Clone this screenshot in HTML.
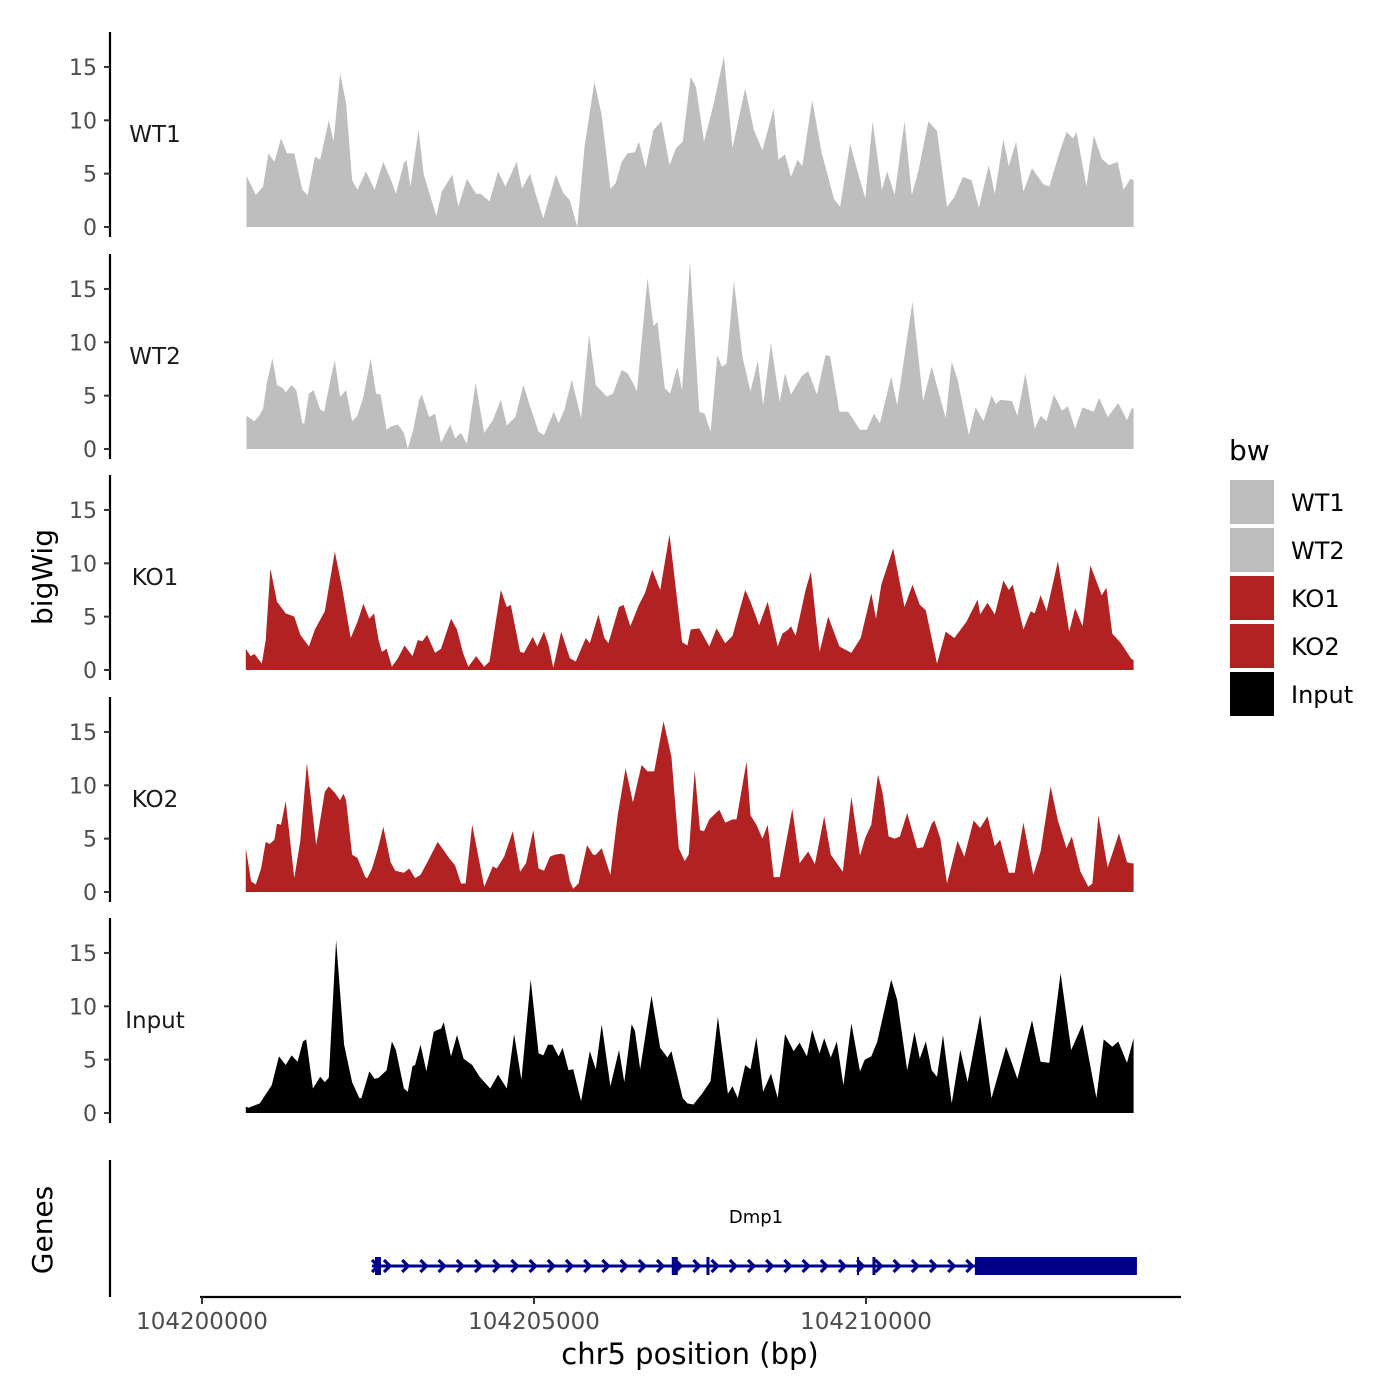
<!DOCTYPE html>
<html><head><meta charset="utf-8">
<style>
html,body{margin:0;padding:0;background:#fff;}
svg{display:block;font-family:"DejaVu Sans","Liberation Sans",sans-serif;}
</style></head>
<body>
<svg id="chart" width="1400" height="1400" viewBox="0 0 1400 1400" xmlns="http://www.w3.org/2000/svg">
<rect width="1400" height="1400" fill="#fff"/>
<g id="tracks"></g>
<g id="genes"></g>
<text x="0" y="0" transform="translate(52,577) rotate(-90)" text-anchor="middle" font-size="28" fill="#000">bigWig</text>
<text x="0" y="0" transform="translate(52,1230) rotate(-90)" text-anchor="middle" font-size="28" fill="#000">Genes</text>
<text x="690" y="1364" text-anchor="middle" font-size="29" fill="#000">chr5 position (bp)</text>
<g>
<text x="1229" y="460" font-size="28" fill="#000">bw</text>
<g id="legend"></g>
</g>
</svg>
<script>
// ---- data (positions in kb offset from 104,200,000 bp; values = coverage) ----
const tickLabels = ["104200000","104205000","104210000"];
const tickValuesKb = [0,5,10];
const yTicks = [0,5,10,15];
const sampleNames = ["WT1","WT2","KO1","KO2","Input"];
const sampleColors = ["#bebebe","#bebebe","#b22222","#b22222","#000000"];

const wt1Pos = [0.67,0.81,0.92,1.00,1.09,1.19,1.28,1.39,1.51,1.59,1.70,1.78,1.91,1.98,2.08,2.17,2.26,2.34,2.47,2.60,2.73,2.86,2.92,3.04,3.08,3.14,3.26,3.34,3.53,3.61,3.77,3.86,3.99,4.13,4.20,4.33,4.46,4.57,4.74,4.82,4.94,5.02,5.14,5.33,5.44,5.54,5.65,5.76,5.91,6.02,6.15,6.23,6.32,6.41,6.52,6.58,6.68,6.80,6.92,7.04,7.14,7.24,7.36,7.44,7.56,7.70,7.86,7.99,8.18,8.31,8.44,8.61,8.68,8.78,8.87,8.97,9.04,9.19,9.33,9.52,9.61,9.76,9.91,9.99,10.10,10.24,10.32,10.43,10.58,10.69,10.79,10.94,11.07,11.22,11.33,11.46,11.59,11.70,11.85,11.94,12.07,12.15,12.26,12.37,12.50,12.67,12.76,12.91,13.02,13.12,13.17,13.32,13.43,13.55,13.66,13.79,13.88,13.98,14.03];
const wt1Val = [4.8,3.0,3.8,6.9,6.1,8.3,6.9,6.9,3.5,3.0,6.6,6.3,10.0,8.0,14.4,11.6,4.4,3.5,5.2,3.5,6.1,4.2,3.1,6.0,6.3,3.8,9.1,4.9,1.0,3.3,4.9,1.9,4.5,3.1,3.1,2.4,5.2,3.8,6.1,3.6,5.0,3.2,0.8,4.9,3.2,2.5,0,7.5,13.6,10.5,3.6,4.1,6.1,6.9,7.0,8.0,5.5,9.1,9.9,5.8,7.4,8.0,14.1,13.1,8.0,11.4,16.0,7.4,13.0,9.1,7.2,11.1,6.3,6.8,4.7,6.3,5.7,11.9,7.0,2.6,1.9,7.8,4.4,2.7,9.9,3.5,5.2,3.0,9.9,3.0,5.3,9.9,9.0,1.9,2.8,4.7,4.4,1.8,5.8,3.1,8.2,5.7,8.0,3.3,5.5,4.0,3.8,6.9,8.9,8.3,8.9,3.8,8.6,6.4,5.8,6.1,3.5,4.5,4.4];

const wt2Pos = [0.67,0.79,0.87,0.92,0.98,1.06,1.13,1.22,1.26,1.35,1.42,1.51,1.54,1.61,1.68,1.78,1.84,1.93,2.00,2.08,2.17,2.26,2.34,2.43,2.54,2.62,2.69,2.78,2.84,2.95,3.04,3.10,3.18,3.27,3.31,3.42,3.51,3.60,3.74,3.81,3.90,3.99,4.12,4.25,4.38,4.50,4.59,4.72,4.84,4.94,5.07,5.15,5.30,5.37,5.46,5.57,5.71,5.83,5.93,6.10,6.19,6.32,6.41,6.49,6.55,6.71,6.80,6.86,6.97,7.05,7.16,7.23,7.35,7.49,7.57,7.66,7.76,7.83,7.90,8.01,8.14,8.26,8.37,8.45,8.57,8.70,8.78,8.87,9.03,9.13,9.26,9.39,9.46,9.60,9.73,9.91,10.01,10.12,10.21,10.38,10.47,10.70,10.86,10.99,11.20,11.29,11.38,11.55,11.65,11.77,11.89,11.96,12.02,12.20,12.28,12.40,12.54,12.63,12.72,12.83,12.95,13.04,13.15,13.26,13.43,13.51,13.64,13.80,13.93,14.00,14.03];
const wt2Val = [3.1,2.6,3.2,3.8,6.3,8.5,6.0,5.7,5.3,6.0,5.5,2.4,2.4,5.2,5.5,3.7,3.5,6.4,8.3,4.9,5.5,2.6,3.1,4.9,8.5,5.2,5.1,1.8,2.1,2.3,1.5,0,1.8,4.6,5.1,3.0,3.3,0.6,2.3,1.0,1.5,0.5,6.2,1.5,2.7,4.6,2.2,3.0,6.0,4.0,1.6,1.3,3.5,2.4,3.7,6.5,2.9,10.7,6.0,4.9,5.2,7.4,7.1,6.2,5.4,16.0,11.5,11.9,5.7,5.2,7.7,5.5,17.6,3.5,3.3,1.6,8.8,7.7,8.0,15.8,8.6,5.4,8.3,4.1,9.9,4.4,7.1,5.1,6.8,7.3,5.1,8.8,8.7,3.5,3.5,1.8,1.8,3.3,2.4,6.8,4.1,13.8,4.5,7.7,2.9,8.2,6.5,1.3,3.9,2.6,5.0,4.2,4.6,4.5,3.1,7.1,1.9,3.1,2.6,5.1,3.6,4.0,1.9,3.9,3.5,4.8,3.0,4.3,2.7,3.8,3.8];

const ko1Pos = [0.66,0.73,0.79,0.90,0.96,1.03,1.13,1.26,1.39,1.48,1.61,1.70,1.85,2.00,2.11,2.24,2.34,2.43,2.52,2.59,2.66,2.71,2.78,2.86,2.95,3.05,3.17,3.25,3.32,3.39,3.51,3.60,3.75,3.84,3.93,4.01,4.13,4.25,4.33,4.50,4.59,4.65,4.79,4.85,4.98,5.05,5.15,5.22,5.29,5.41,5.54,5.63,5.78,5.84,5.97,6.06,6.12,6.28,6.35,6.45,6.58,6.67,6.78,6.90,7.04,7.23,7.31,7.36,7.49,7.64,7.75,7.88,7.99,8.18,8.26,8.39,8.52,8.67,8.74,8.83,8.87,8.94,9.09,9.17,9.30,9.43,9.60,9.78,9.92,10.08,10.15,10.23,10.41,10.58,10.70,10.81,10.90,11.07,11.20,11.33,11.51,11.68,11.72,11.83,11.94,12.07,12.15,12.21,12.37,12.48,12.54,12.63,12.72,12.89,13.06,13.15,13.26,13.38,13.55,13.62,13.71,13.84,13.99,14.03];
const ko1Val = [2.0,1.3,1.5,0.6,2.8,9.5,6.4,5.3,5.0,3.3,2.2,3.8,5.5,11.1,7.7,3.0,4.5,6.2,4.8,5.3,2.8,1.7,2.0,0.3,1.1,2.3,1.3,2.8,2.7,3.3,1.6,2.0,4.8,3.8,1.6,0.3,1.3,0.3,0.8,7.5,5.9,6.1,1.7,1.6,3.1,2.2,3.6,2.3,0.2,3.6,1.1,0.8,3.0,2.5,5.2,3.0,2.5,5.9,6.1,4.1,6.1,7.2,9.4,7.5,12.7,2.6,2.3,3.8,3.9,2.2,3.9,2.5,3.2,7.5,6.4,4.2,6.4,2.2,3.4,3.8,4.1,3.2,7.5,9.2,1.7,5.0,2.2,1.6,3.0,7.2,4.8,8.0,11.4,5.9,8.0,6.1,5.6,0.6,3.6,3.0,4.5,6.6,5.2,6.3,5.2,8.4,7.5,8.0,3.8,5.5,5.3,7.0,5.5,10.2,3.6,5.8,4.1,9.8,7.0,7.7,3.4,2.5,1.1,0.9];

const ko2Pos = [0.66,0.74,0.81,0.89,0.96,1.02,1.09,1.13,1.19,1.26,1.39,1.48,1.58,1.72,1.85,1.91,2.00,2.08,2.13,2.17,2.26,2.34,2.46,2.49,2.56,2.65,2.73,2.84,2.91,3.04,3.12,3.21,3.29,3.42,3.55,3.73,3.81,3.90,3.97,4.07,4.25,4.38,4.44,4.55,4.68,4.79,4.88,4.99,5.07,5.15,5.24,5.31,5.41,5.46,5.54,5.59,5.67,5.80,5.89,5.93,6.02,6.15,6.26,6.38,6.49,6.62,6.71,6.81,6.95,7.07,7.18,7.27,7.33,7.42,7.50,7.56,7.64,7.79,7.88,7.99,8.05,8.20,8.26,8.35,8.44,8.52,8.61,8.70,8.89,9.00,9.13,9.23,9.37,9.47,9.65,9.78,9.91,9.99,10.08,10.18,10.25,10.34,10.43,10.51,10.62,10.77,10.86,10.99,11.03,11.12,11.22,11.38,11.48,11.62,11.72,11.83,11.94,12.02,12.15,12.24,12.37,12.52,12.63,12.78,12.89,13.02,13.10,13.23,13.35,13.41,13.50,13.64,13.81,13.93,13.99,14.03];
const ko2Val = [4.1,1.0,0.7,2.2,4.7,4.5,4.9,6.4,6.3,8.5,1.3,4.8,12.1,4.4,9.4,9.9,9.3,8.6,9.2,8.6,3.5,3.2,1.4,1.3,2.2,4.1,6.1,2.8,2.0,1.8,2.2,1.3,1.6,3.1,4.7,3.1,2.5,0.8,0.8,6.3,0.5,2.4,2.2,3.3,5.7,1.9,2.7,5.8,2.2,2.0,3.3,3.5,3.6,3.5,1.0,0.3,0.8,4.4,3.5,3.5,4.1,1.6,7.2,11.6,8.4,11.9,11.3,11.3,16.0,12.7,4.1,2.9,3.5,11.4,5.8,5.7,6.8,7.7,6.5,6.8,6.8,12.2,7.2,6.3,5.0,6.3,1.4,1.4,7.8,2.7,3.8,2.6,7.1,3.5,1.9,8.9,3.4,5.1,6.3,11.0,9.3,5.2,5.0,5.2,7.4,4.1,4.2,6.4,6.7,5.0,0.8,4.8,3.3,6.7,6.0,7.1,4.3,4.9,1.8,1.8,6.5,1.6,3.8,9.9,6.7,4.1,5.2,1.9,0.5,0.8,7.2,2.3,5.5,2.8,2.7,2.7];

const inputPos = [0.66,0.70,0.87,1.05,1.16,1.26,1.35,1.44,1.52,1.57,1.67,1.78,1.85,1.91,2.02,2.14,2.26,2.37,2.40,2.52,2.60,2.66,2.78,2.86,2.92,3.04,3.10,3.17,3.21,3.29,3.38,3.49,3.55,3.60,3.64,3.75,3.84,3.94,4.07,4.18,4.34,4.46,4.59,4.70,4.81,4.95,5.07,5.14,5.21,5.28,5.37,5.43,5.52,5.59,5.71,5.84,5.93,6.02,6.15,6.28,6.36,6.47,6.52,6.60,6.77,6.90,7.01,7.07,7.24,7.31,7.40,7.53,7.66,7.77,7.92,7.99,8.07,8.18,8.26,8.35,8.45,8.57,8.67,8.78,8.91,9.00,9.11,9.19,9.30,9.37,9.47,9.56,9.66,9.78,9.91,9.98,10.08,10.17,10.38,10.47,10.62,10.73,10.81,10.90,10.99,11.07,11.16,11.29,11.42,11.53,11.72,11.89,12.11,12.28,12.50,12.63,12.76,12.93,13.09,13.26,13.47,13.58,13.71,13.80,13.93,14.03];
const inputVal = [0.6,0.5,0.9,2.6,5.3,4.5,5.4,4.8,6.7,6.9,2.3,3.4,2.9,3.3,16.2,6.4,2.9,1.4,1.4,3.9,3.2,3.3,4.0,6.7,5.9,2.3,2.0,4.4,4.5,6.4,3.9,7.6,7.8,7.9,8.5,5.3,7.3,5.1,4.5,3.4,2.3,3.6,2.3,7.4,3.1,12.5,5.6,5.4,6.4,6.4,5.3,6.1,4.0,4.1,1.1,5.8,4.1,8.3,2.5,5.9,2.9,8.3,7.7,4.1,11.0,6.1,5.2,5.8,1.4,0.9,0.8,1.8,3.0,9.0,1.8,2.5,1.4,4.5,4.1,7.1,2.0,3.7,1.4,7.4,5.8,6.6,5.3,7.8,5.6,7.0,5.2,6.7,2.6,8.4,3.9,5.0,5.3,6.7,12.5,10.6,4.0,7.6,5.1,6.7,4.0,3.4,7.3,0.9,5.9,2.9,9.2,1.4,6.2,3.2,8.7,4.8,4.7,13.1,5.9,8.3,1.4,6.9,6.2,6.7,4.7,7.0];

const geneName = "Dmp1";
const geneStartKb = 2.56;
const geneEndKb = 14.08;
const cdsEndStartKb = 11.64;
const exonKb = [2.65, 7.12, 7.62, 9.88, 10.12];

// ---- scales ----
const NS = "http://www.w3.org/2000/svg";
const X0 = 202, PX_PER_KB = 66.4;
function xScale(kb){ return X0 + kb * PX_PER_KB; }
const PANEL_ZERO = [227, 449, 670, 892, 1113];
const PX_PER_UNIT = 10.67;
function yScale(panel, v){ return PANEL_ZERO[panel] - v * PX_PER_UNIT; }
function mk(tag, attrs, parent){
  const el = document.createElementNS(NS, tag);
  for (const k in attrs) el.setAttribute(k, attrs[k]);
  parent.appendChild(el);
  return el;
}
const seriesPos = [wt1Pos, wt2Pos, ko1Pos, ko2Pos, inputPos];
const seriesVal = [wt1Val, wt2Val, ko1Val, ko2Val, inputVal];
const tracks = document.getElementById('tracks');

for (let p = 0; p < 5; p++){
  const g = mk('g', {}, tracks);
  
  
  const z = PANEL_ZERO[p];
  const ax = mk('line', {x1:110, x2:110, y1:z-195, y2:z+10, stroke:'#000', 'stroke-width':2.2}, g);
  
  
  yTicks.forEach(t => {
    const y = yScale(p, t);
    const tk = mk('line', {x1:104, x2:110, y1:y, y2:y, stroke:'#333', 'stroke-width':2}, g);
    
    
    const tl = mk('text', {x:97, y:y+8, 'text-anchor':'end', 'font-size':22, fill:'#4d4d4d'}, g);
    tl.textContent = t;
    
    
  });
  const pos = seriesPos[p], val = seriesVal[p];
  let d = 'M' + xScale(pos[0]).toFixed(1) + ',' + z;
  for (let i = 0; i < pos.length; i++){
    d += ' L' + xScale(pos[i]).toFixed(1) + ',' + yScale(p, val[i]).toFixed(1);
  }
  d += ' L' + xScale(pos[pos.length-1]).toFixed(1) + ',' + z + ' Z';
  const area = mk('path', {d:d, fill:sampleColors[p]}, g);
  
  
  const lab = mk('text', {x:155, y:z-85, 'text-anchor':'middle', 'font-size':23, fill:'#1a1a1a'}, g);
  lab.textContent = sampleNames[p];
  
  
}

// ---- gene track ----
const gg = document.getElementById('genes');
const gAx = mk('line', {x1:110, x2:110, y1:1160, y2:1297, stroke:'#000', 'stroke-width':2.2}, gg);


const xAx = mk('line', {x1:200, x2:1181, y1:1297, y2:1297, stroke:'#000', 'stroke-width':2.2}, gg);


tickValuesKb.forEach((kb, i) => {
  const x = xScale(kb);
  const t = mk('line', {x1:x, x2:x, y1:1297, y2:1304, stroke:'#333', 'stroke-width':2}, gg);
  
  
  const tl = mk('text', {x:x, y:1329, 'text-anchor':'middle', 'font-size':23, fill:'#4d4d4d'}, gg);
  tl.textContent = tickLabels[i];
  
  
});
const gy = 1266, blue = '#00008b';
const gline = mk('line', {x1:xScale(geneStartKb), x2:xScale(geneEndKb), y1:gy, y2:gy, stroke:blue, 'stroke-width':3}, gg);


for (let x = xScale(geneStartKb) + 16; x < xScale(cdsEndStartKb) - 4; x += 18.2){
  const a = mk('path', {d:`M${x-4},${gy-6} L${x+2},${gy} L${x-4},${gy+6}`, fill:'none', stroke:blue, 'stroke-width':3.2}, gg);
  
  
}
const sa = mk('path', {d:`M${xScale(geneStartKb)},${gy-6} L${xScale(geneStartKb)+6},${gy} L${xScale(geneStartKb)},${gy+6}`, fill:'none', stroke:blue, 'stroke-width':3.2}, gg);


const exW = [6, 6, 3, 2, 3];
exonKb.forEach((kb, i) => {
  const e = mk('rect', {x:xScale(kb)-exW[i]/2, y:gy-9, width:exW[i], height:18, fill:blue}, gg);
  
  
});
const cds = mk('rect', {x:xScale(cdsEndStartKb), y:gy-9, width:xScale(geneEndKb)-xScale(cdsEndStartKb), height:18, fill:blue}, gg);


const gname = mk('text', {x:756, y:1223, 'text-anchor':'middle', 'font-size':18, fill:'#000'}, gg);
gname.textContent = geneName;



// ---- legend ----
const lg = document.getElementById('legend');
sampleNames.forEach((n, i) => {
  const y = 480 + i * 48;
  const k = mk('rect', {x:1230, y:y, width:44, height:44, fill:sampleColors[i]}, lg);
  
  
  const t = mk('text', {x:1291, y:y+31, 'font-size':24, fill:'#000'}, lg);
  t.textContent = n;
  
  
});
</script>
</body></html>
